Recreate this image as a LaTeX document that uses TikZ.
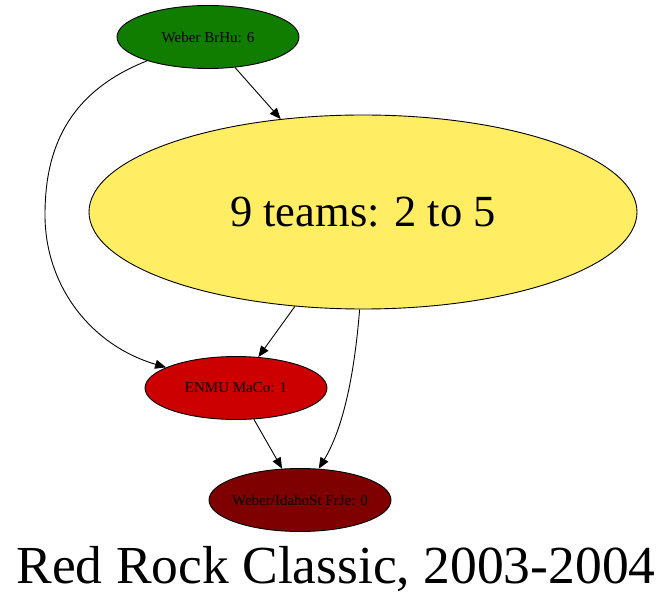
\documentclass[tikz,border=0pt]{standalone}
\usepackage{fontspec}
\setmainfont{Liberation Serif}
\usetikzlibrary{arrows.meta,shapes.geometric}
\definecolor{teamgreen}{RGB}{16,124,0}
\definecolor{teamyellow}{RGB}{255,238,99}
\definecolor{teamred}{RGB}{204,0,0}
\definecolor{teamdark}{RGB}{127,0,0}
\tikzset{
	team/.style={ellipse, draw=black, line width=0.9pt, inner xsep=-12pt, inner ysep=0pt,
		font=\fontsize{15}{17}\selectfont, minimum width=182pt, minimum height=63pt},
	edge/.style={-{Triangle[length=11pt,width=9pt]}, black, line width=0.9pt}
}
\begin{document}
\begin{tikzpicture}[x=1pt,y=-1pt]
		\useasboundingbox (0,0) rectangle (672,609);
		\node[team, fill=teamgreen] (w) at (208, 37)		{Weber BrHu: 6};
		\node[team, fill=teamyellow, minimum width=548pt, minimum height=194pt,
			font=\fontsize{44.5}{50}\selectfont] (n) at (363, 212)		{9 teams: 2 to 5};
		\node[team, fill=teamred] (e) at (236, 388)		{ENMU MaCo: 1};
		\node[team, fill=teamdark] (i) at (300, 500)		{Weber/IdahoSt FrJe: 0};
		\node[font=\fontsize{53.5}{60}\selectfont] (t) at (336, 569)		{Red Rock Classic, 2003-2004};
		
		\draw[edge] (w) -- (n);
		\draw[edge] (w) .. controls (60, 95) and (45, 160) .. (45, 215) .. controls (45, 285) and (90, 345) .. (e);
		\draw[edge] (n) -- (e);
		\draw[edge] (n.268) .. controls (354, 380) and (342, 430) .. (i);
		\draw[edge] (e) -- (i);
	\end{tikzpicture}
\end{document}
